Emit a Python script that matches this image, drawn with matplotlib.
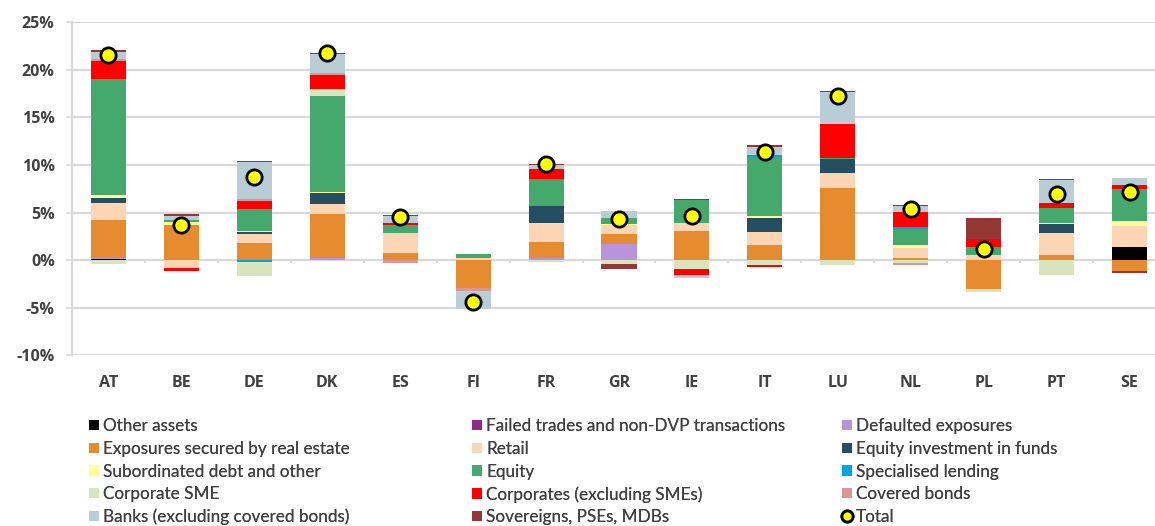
import numpy as np
import matplotlib
matplotlib.use("Agg")
import matplotlib.pyplot as plt
from matplotlib.lines import Line2D

# ============================================
# Data (percent contribution per exposure class)
# ============================================
countries = ["AT", "BE", "DE", "DK", "ES", "FI", "FR", "GR", "IE", "IT", "LU", "NL", "PL", "PT", "SE"]

other_assets   = [0.10, 0, 0, 0, 0, 0, 0.05, 0, 0, 0, 0, 0, 0, 0, 1.35]
failed_trades  = [0, 0, 0, 0, 0, 0, 0, 0, 0, 0, 0, 0, 0, 0, 0]
defaulted      = [0.15, 0, 0, 0.25, 0, 0, 0.15, 1.65, 0, 0, 0, 0, 0, 0, 0]
real_estate    = [4.0, 3.65, 1.82, 4.6, 0.7, -2.9, 1.75, 1.05, 3.05, 1.58, 7.6, 0.25, -3.0, 0.5, -1.1]
retail         = [1.75, -0.8, 0.88, 1.05, 2.18, 0.2, 2.0, 0.95, 0.88, 1.37, 1.58, 1.05, 0.56, 2.39, 2.25]
eq_funds       = [0.56, 0, 0.28, 1.16, 0, 0, 1.75, 0, 0, 1.47, 1.4, 0, 0, 0.95, 0]
sub_debt       = [0.28, 0.35, 0.10, 0.10, 0, 0, 0, 0.10, 0, 0.25, 0, 0.25, 0, 0.10, 0.56]
equity         = [12.2, 0.25, 2.3, 10.1, 0.77, 0.45, 2.7, 0.7, 2.39, 6.18, 0.15, 1.6, 0.84, 1.5, 3.33]
specialised    = [0, 0, -0.2, 0, 0, 0, 0.14, 0, 0, 0.17, 0, 0.32, 0, 0, 0]
corporate_sme  = [-0.45, 0, -1.5, 0.77, 0, 0, -0.15, -0.45, -0.9, -0.55, -0.55, -0.35, -0.3, -1.54, 0]
corporates     = [1.93, -0.35, 0.84, 1.4, 0.28, 0, 1.05, 0, -0.65, -0.15, 3.54, 1.58, 0.84, 0.53, 0.42]
covered_bonds  = [0.14, 0, 0.25, 0.28, -0.25, -0.39, 0, 0, 0, 0, 0, -0.2, 0, 0, 0]
banks          = [0.8, 0.4, 3.8, 1.93, 0.7, -1.86, 0.42, 0.7, -0.35, 0.9, 3.4, 0.63, 0, 2.46, 0.7]
sovereigns     = [0.14, 0.15, 0.14, 0.14, 0.14, 0, 0.14, -0.45, 0.14, 0.17, 0.14, 0.14, 2.2, 0.14, -0.2]
total          = [21.6, 3.7, 8.7, 21.8, 4.5, -4.4, 10.1, 4.3, 4.6, 11.4, 17.3, 5.4, 1.2, 7.0, 7.2]

series = [
    ("Other assets", other_assets, "#000000"),
    ("Failed trades and non-DVP transactions", failed_trades, "#8E2A8E"),
    ("Defaulted exposures", defaulted, "#B794DB"),
    ("Exposures secured by real estate", real_estate, "#E68B2F"),
    ("Retail", retail, "#FCD5B5"),
    ("Equity investment in funds", eq_funds, "#254E60"),
    ("Subordinated debt and other", sub_debt, "#FFFF99"),
    ("Equity", equity, "#45A96E"),
    ("Specialised lending", specialised, "#00A6E0"),
    ("Corporate SME", corporate_sme, "#D7E4BD"),
    ("Corporates (excluding SMEs)", corporates, "#FF0000"),
    ("Covered bonds", covered_bonds, "#DA9694"),
    ("Banks (excluding covered bonds)", banks, "#B8CDD5"),
    ("Sovereigns, PSEs, MDBs", sovereigns, "#953735"),
]

# ============================================
# Figure
# ============================================
fig = plt.figure(figsize=(11.55, 5.26), dpi=100)
ax = fig.add_axes([72 / 1155, 1 - 355.3 / 526, 1094 / 1155, (355.3 - 22.3) / 526])

grid_c = "#D9D9D9"
text_c = "#404040"
x = np.arange(len(countries))
w = 0.48

ax.set_xlim(-0.5, len(countries) - 0.5)
ax.set_ylim(-10, 25)
yt = np.arange(-10, 26, 5)
ax.set_yticks(yt)
ax.set_yticklabels([f"{v}%" for v in yt])
for v in yt:
    ax.axhline(v, color=grid_c, lw=1.6, zorder=0)

for s in ["top", "right", "bottom"]:
    ax.spines[s].set_visible(False)
ax.spines["left"].set_color(grid_c)
ax.spines["left"].set_linewidth(1.6)

ax.tick_params(axis="y", length=4.5, width=1.2, color=grid_c, pad=8,
               labelsize=11.5, labelcolor=text_c)
ax.tick_params(axis="x", length=0, pad=14, labelsize=11.5, labelcolor=text_c)
ax.set_xticks(x)
ax.set_xticklabels(countries)
for lab in ax.get_xticklabels() + ax.get_yticklabels():
    lab.set_fontfamily("Open Sans")
    lab.set_fontweight("bold")

# small ticks on the zero line between categories
ax.vlines(x[:-1] + 0.5, -0.35, 0, color=grid_c, lw=1.4, zorder=1)

# stacked bars, positives up and negatives down
pos_base = np.zeros(len(countries))
neg_base = np.zeros(len(countries))
handles = []
for name, vals, col in series:
    v = np.array(vals, dtype=float)
    pv = np.where(v > 0, v, 0)
    nv = np.where(v < 0, v, 0)
    ax.bar(x, pv, w, bottom=pos_base, color=col, lw=0, zorder=2)
    ax.bar(x, nv, w, bottom=neg_base, color=col, lw=0, zorder=2)
    pos_base += pv
    neg_base += nv
    handles.append(plt.Rectangle((0, 0), 1, 1, facecolor=col, edgecolor="none"))

ax.plot(x, total, "o", ms=11, mfc="#FFFF00", mec="black", mew=2, zorder=5, ls="none")
handles.append(Line2D([], [], marker="o", ms=8, mfc="#FFFF00", mec="black", mew=2, ls="none"))

labels = [s[0] for s in series] + ["Total"]

# legend: three columns, filled row by row
col_x = [74 / 1155, 457 / 1155, 827 / 1155]
for c in range(3):
    idx = list(range(c, len(labels), 3))
    leg = fig.legend([handles[i] for i in idx], [labels[i] for i in idx],
                     loc="upper left", bbox_to_anchor=(col_x[c], 1 - 403 / 526),
                     frameon=False, handlelength=0.55, handleheight=0.55,
                     handletextpad=0.25, labelspacing=0.385,
                     prop={"family": "Lato", "size": 12.3})
    for t in leg.get_texts():
        t.set_color(text_c)
    fig.add_artist(leg)

fig.savefig("out.png", dpi=100)
